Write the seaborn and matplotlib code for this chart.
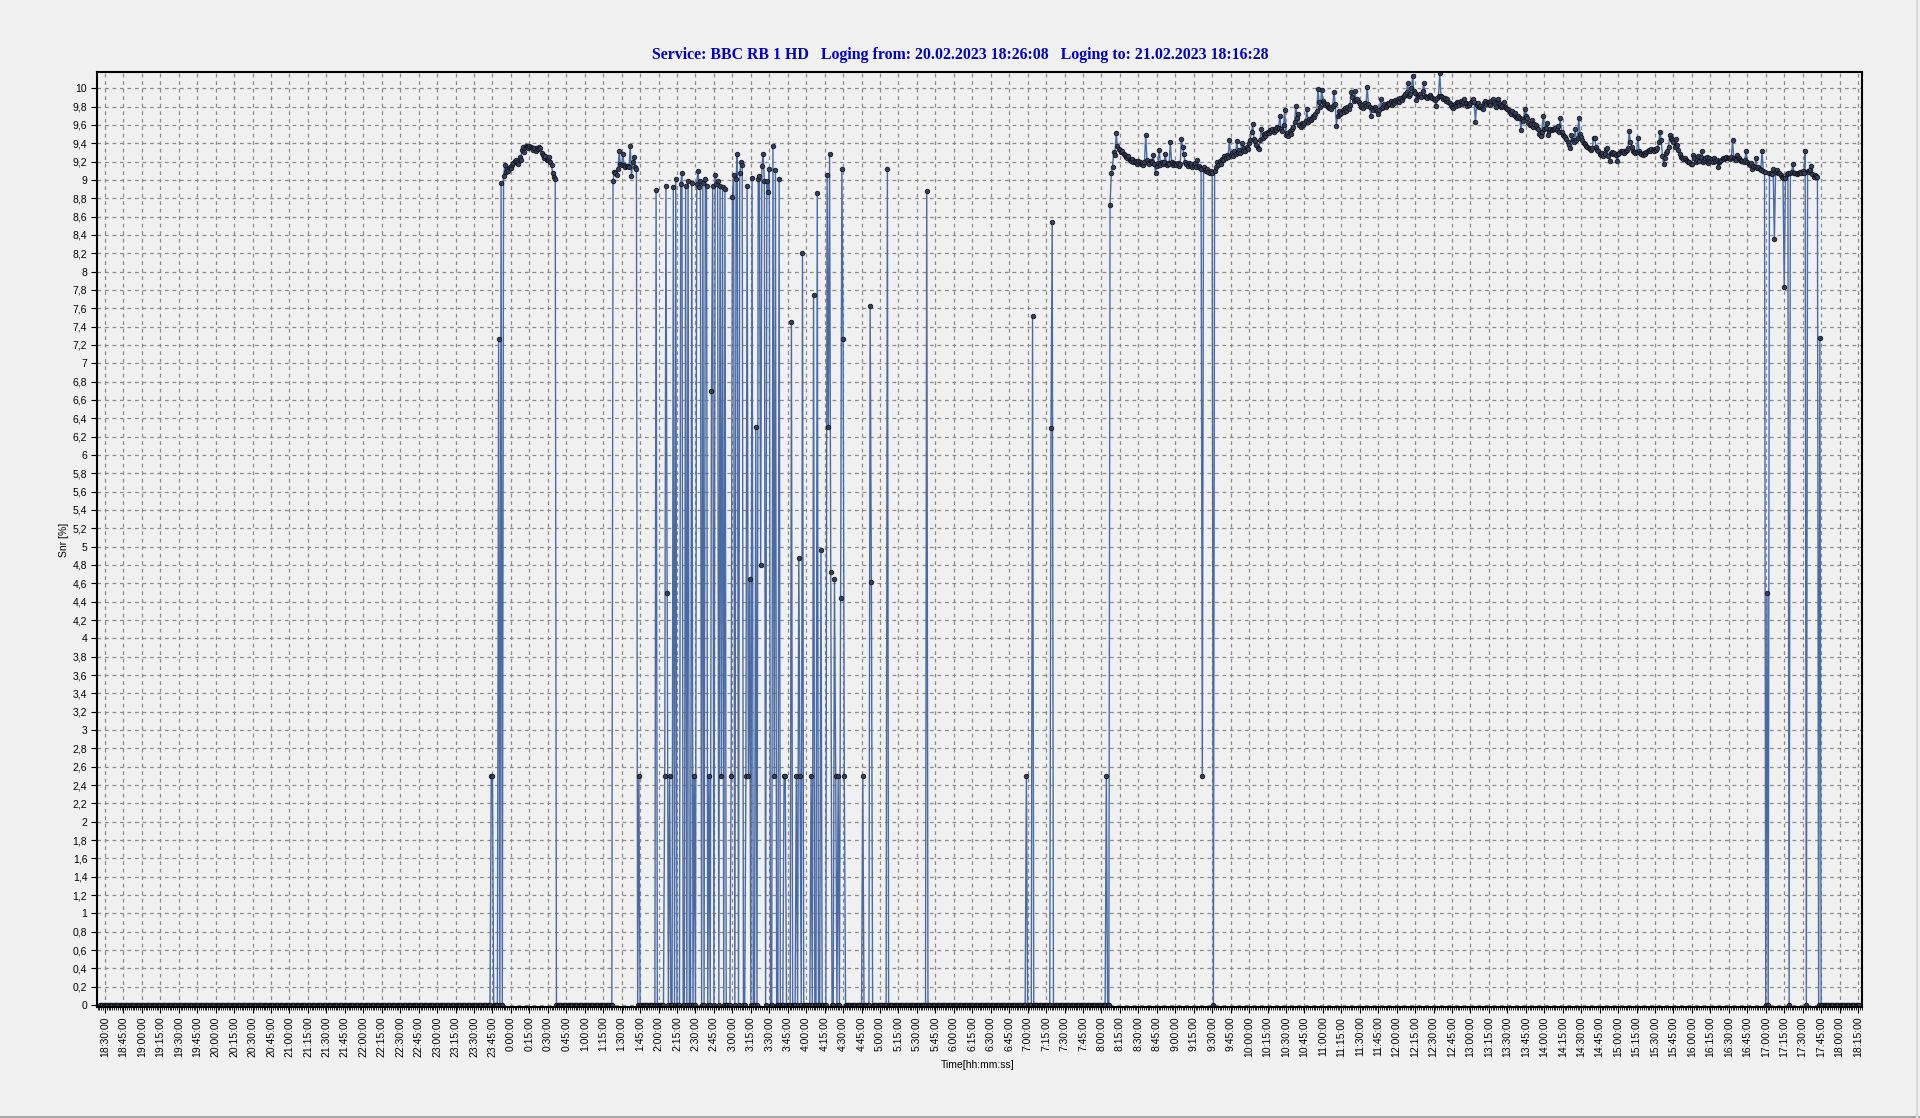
import matplotlib
matplotlib.use("Agg")
import matplotlib.pyplot as plt
import matplotlib.dates as mdates
from matplotlib.ticker import MultipleLocator, FuncFormatter, AutoMinorLocator
from matplotlib.lines import Line2D
import pandas as pd
import seaborn as sns

TITLE = "Service: BBC RB 1 HD   Loging from: 20.02.2023 18:26:08   Loging to: 21.02.2023 18:16:28"
first_sample = "2023-02-20 18:26"
x_from, x_to = "2023-02-20 18:23:30", "2023-02-21 18:18:15"

# Snr [%], one reading per minute
snr_evening = [0.0] * 318  # 18:26 - 23:43, nothing received

snr_midnight = [  # 23:44 - 0:36
    2.5, 2.5, 0, 0, 0, 0, 7.26, 0, 8.97, 0, 9.04, 9.16, 9.09, 9.12, 9.10, 9.14,
    9.13, 9.16, 9.18, 9.21, 9.22, 9.19, 9.17, 9.25, 9.22, 9.33, 9.36, 9.30, 9.37, 9.36, 9.35,
    9.37, 9.36, 9.35, 9.33, 9.35, 9.32, 9.35, 9.34, 9.36, 9.35, 9.29, 9.27, 9.24, 9.26, 9.22,
    9.22, 9.25, 9.20, 9.16, 9.07, 9.03, 9.01,
]

snr_gap = [0.0] * 46  # 0:37 - 1:22

snr_0123 = [  # 1:23 - 1:42
    8.99, 9.09, 9.07, 9.05, 9.12, 9.31, 9.17, 9.16, 9.28, 9.16,
    9.14, 9.15, 9.15, 9.14, 9.37, 9.04, 9.19, 9.25, 9.14, 9.12,
]

snr_dropouts = (  # 1:43 - 4:53
    [0, 2.5] + [0] * 13 + [8.89, 0]
    + [0, 0, 0, 0, 0, 2.5, 8.93, 4.5, 0, 2.5, 0, 0, 8.92, 0, 9.01]
    + [0, 0, 0, 8.95, 9.08, 0, 0, 8.93, 0, 8.99, 0, 0, 8.97, 0, 2.5]
    + [0, 8.96, 9.10, 8.92, 8.99, 0, 8.97, 0, 9.01, 8.93, 0, 2.5, 0, 6.70, 8.93]
    + [0, 9.05, 8.96, 8.99, 0, 8.93, 2.5, 8.92, 0, 8.90, 0, 0, 0, 0, 2.5]
    + [8.81, 9.05, 0, 9.01, 9.28, 0, 9.07, 9.20, 9.16, 0, 0, 2.5, 8.93, 2.5, 4.65]
    + [0, 9.02, 0, 0, 6.31, 0, 9.01, 9.04, 4.80, 9.15, 9.28, 8.99, 0, 8.99, 8.87]
    + [9.12, 0, 0, 9.37, 2.5, 9.11, 0, 0, 9.01, 0, 0, 0, 2.5, 2.5, 0]
    + [0, 0, 0, 7.45, 0, 0, 0, 2.5, 0, 4.88, 2.5, 0, 8.20, 0, 0]
    + [0, 0, 0, 0, 2.5, 0, 7.74, 0, 0, 8.86, 0, 0, 4.96, 0, 0]
    + [0, 0, 9.05, 6.31, 9.28, 4.72, 0, 0, 4.65, 2.5, 0, 2.5, 0, 4.44, 9.12]
    + [7.27, 2.5] + [0] * 13
    + [0, 2.5, 0, 0, 0, 0, 0, 7.62, 4.62]
)

snr_early = (  # 4:54 - 8:06
    [0.0] * 12 + [9.12] + [0.0] * 31 + [8.88] + [0.0] * 80 + [2.5]
    + [0.0] * 4 + [7.52] + [0.0] * 14 + [6.29, 8.54] + [0.0] * 43 + [2.5, 0.0, 0.0]
)

snr_day = [  # 8:07 - 17:42
    8.73, 9.07, 9.14, 9.30, 9.27, 9.51, 9.37, 9.34,
    9.33, 9.30, 9.32, 9.28, 9.27, 9.25, 9.24, 9.26, 9.22, 9.21, 9.23, 9.19, 9.21, 9.20, 9.17,
    9.21, 9.19, 9.17, 9.18, 9.16, 9.20, 9.49, 9.22, 9.18, 9.17, 9.21, 9.19, 9.27, 9.17, 9.08,
    9.15, 9.18, 9.33, 9.16, 9.19, 9.17, 9.20, 9.28, 9.16, 9.18, 9.17, 9.41, 9.19, 9.16, 9.18,
    9.17, 9.16, 9.18, 9.15, 9.17, 9.45, 9.36, 9.28, 9.19, 9.17, 9.15, 9.18, 9.16, 9.17, 9.14,
    9.16, 9.18, 9.14, 9.22, 9.15, 9.13, 9.12, 2.5, 9.14, 9.11, 9.10, 9.12, 9.09, 9.08, 9.10,
    9.07, 0, 9.10, 9.14, 9.19, 9.16, 9.21, 9.17, 9.23, 9.22, 9.26, 9.24, 9.27, 9.25, 9.44,
    9.27, 9.29, 9.26, 9.31, 9.28, 9.42, 9.30, 9.33, 9.29, 9.40, 9.32, 9.35, 9.31, 9.36, 9.34,
    9.40, 9.44, 9.52, 9.61, 9.45, 9.42, 9.38, 9.35, 9.34, 9.44, 9.56, 9.46, 9.50, 9.48, 9.51,
    9.52, 9.51, 9.54, 9.53, 9.55, 9.52, 9.56, 9.54, 9.58, 9.57, 9.70, 9.56, 9.53, 9.60, 9.76,
    9.49, 9.51, 9.48, 9.53, 9.50, 9.55, 9.58, 9.63, 9.81, 9.67, 9.72, 9.60, 9.58, 9.62, 9.60,
    9.62, 9.64, 9.77, 9.63, 9.66, 9.65, 9.68, 9.70, 9.69, 9.72, 9.75, 9.99, 9.85, 9.80, 9.98,
    9.86, 9.84, 9.82, 9.83, 9.80, 9.78, 9.79, 9.77, 9.81, 9.96, 9.83, 9.59, 9.70, 9.75, 9.72,
    9.73, 9.76, 9.74, 9.78, 9.75, 9.80, 9.77, 9.82, 9.96, 9.90, 9.86, 9.97, 9.87, 9.88, 9.85,
    9.83, 9.80, 9.82, 9.78, 9.84, 9.81, 10.01, 9.83, 9.79, 9.70, 9.78, 9.76, 9.79, 9.77, 9.75,
    9.72, 9.76, 9.88, 9.78, 9.80, 9.83, 9.79, 9.82, 9.84, 9.83, 9.86, 9.82, 9.85, 9.84, 9.87,
    9.86, 9.88, 9.85, 9.89, 9.87, 9.90, 9.92, 9.94, 9.96, 10.06, 9.91, 9.94, 10.00, 10.13, 9.97,
    9.95, 9.87, 9.93, 9.91, 9.94, 9.90, 9.97, 10.06, 9.92, 9.90, 9.89, 9.91, 9.93, 9.90, 9.89,
    9.88, 9.87, 9.81, 9.89, 9.92, 10.16, 9.91, 9.90, 9.88, 9.89, 9.86, 9.88, 9.85, 9.84, 9.82,
    9.80, 9.78, 9.83, 9.81, 9.85, 9.84, 9.82, 9.86, 9.83, 9.85, 9.88, 9.84, 9.81, 9.83, 9.82,
    9.84, 9.86, 9.88, 9.85, 9.63, 9.82, 9.84, 9.80, 9.81, 9.78, 9.77, 9.84, 9.86, 9.83, 9.85,
    9.84, 9.82, 9.86, 9.88, 9.85, 9.83, 9.80, 9.88, 9.84, 9.82, 9.79, 9.81, 9.85, 9.80, 9.78,
    9.77, 9.76, 9.74, 9.72, 9.75, 9.71, 9.73, 9.69, 9.67, 9.70, 9.68, 9.54, 9.66, 9.64, 9.77,
    9.70, 9.68, 9.62, 9.60, 9.61, 9.65, 9.58, 9.61, 9.60, 9.57, 9.55, 9.50, 9.48, 9.52, 9.70,
    9.56, 9.57, 9.62, 9.49, 9.53, 9.55, 9.54, 9.56, 9.55, 9.57, 9.54, 9.59, 9.52, 9.68, 9.52,
    9.49, 9.48, 9.47, 9.45, 9.41, 9.38, 9.35, 9.49, 9.43, 9.41, 9.55, 9.44, 9.46, 9.68, 9.50,
    9.47, 9.44, 9.40, 9.39, 9.37, 9.36, 9.35, 9.34, 9.33, 9.35, 9.46, 9.46, 9.36, 9.33, 9.31,
    9.28, 9.27, 9.29, 9.26, 9.28, 9.34, 9.35, 9.26, 9.21, 9.29, 9.30, 9.28, 9.29, 9.27, 9.21,
    9.28, 9.29, 9.31, 9.30, 9.32, 9.29, 9.31, 9.33, 9.35, 9.53, 9.41, 9.36, 9.32, 9.30, 9.29,
    9.30, 9.46, 9.32, 9.29, 9.28, 9.27, 9.29, 9.28, 9.30, 9.31, 9.33, 9.32, 9.34, 9.33, 9.32,
    9.34, 9.33, 9.35, 9.41, 9.52, 9.44, 9.26, 9.17, 9.24, 9.29, 9.32, 9.36, 9.49, 9.46, 9.43,
    9.41, 9.36, 9.45, 9.38, 9.33, 9.28, 9.25, 9.24, 9.23, 9.24, 9.22, 9.21, 9.20, 9.19, 9.17,
    9.17, 9.27, 9.24, 9.19, 9.22, 9.26, 9.21, 9.25, 9.32, 9.20, 9.22, 9.24, 9.25, 9.18, 9.24,
    9.21, 9.23, 9.20, 9.24, 9.21, 9.22, 9.14, 9.19, 9.21, 9.22, 9.24, 9.23, 9.24, 9.25, 9.24,
    9.24, 9.23, 9.25, 9.43, 9.24, 9.23, 9.22, 9.27, 9.24, 9.22, 9.21, 9.21, 9.20, 9.22, 9.31,
    9.19, 9.17, 9.16, 9.18, 9.12, 9.15, 9.14, 9.24, 9.13, 9.14, 9.12, 9.11, 9.31, 9.10, 9.09,
    0, 4.5, 0, 9.08, 9.07, 9.06, 9.12, 8.35, 9.09, 9.11, 9.07, 9.08, 9.05, 9.03, 9.02,
    7.83, 9.02, 9.06, 9.08, 0, 9.07, 9.09, 9.17, 9.08, 9.07, 9.06, 9.08, 9.07, 9.09, 9.08,
    9.10, 9.08, 9.31, 0, 9.10, 9.09, 9.11, 9.15, 9.06, 9.03, 9.05, 9.04, 9.03,
]

snr_tail = [0.0, 7.28] + [0.0] * 32  # 17:43 - 18:16

snr = snr_evening + snr_midnight + snr_gap + snr_0123 + snr_dropouts + snr_early + snr_day + snr_tail
times = pd.date_range(first_sample, periods=len(snr), freq="1min")
df = pd.DataFrame({"time": times, "snr": snr})


def time_label(x, pos):
    d = mdates.num2date(x)
    return f"{d.hour}:{d.minute:02d}:{d.second:02d}"


def snr_label(v, pos):
    return f"{v:.1f}".rstrip("0").rstrip(".").replace(".", ",")


bg = "#f0f0f0"
fig = plt.figure(figsize=(19.2, 11.18), dpi=100, facecolor=bg)
ax = fig.add_axes([0.0505, 0.0993, 0.9193, 0.8366], facecolor=bg)

sns.lineplot(data=df, x="time", y="snr", ax=ax, estimator=None, sort=False,
             color="#4a6aa5", linewidth=1.0, marker="o", markersize=3.3,
             markerfacecolor="#34405a", markeredgecolor="#101018", markeredgewidth=0.55)

ax.set_xlim(pd.Timestamp(x_from), pd.Timestamp(x_to))
ax.set_ylim(-0.02, 10.18)

ax.xaxis.set_major_locator(mdates.MinuteLocator(byminute=[0, 15, 30, 45]))
ax.xaxis.set_major_formatter(FuncFormatter(time_label))
ax.xaxis.set_minor_locator(AutoMinorLocator(10))
ax.yaxis.set_major_locator(MultipleLocator(0.2))
ax.yaxis.set_major_formatter(FuncFormatter(snr_label))

ax.tick_params(axis="x", which="major", labelrotation=90, labelsize=7.5, length=4, width=0.8, pad=3)
ax.tick_params(axis="x", which="minor", length=2.5, width=0.6)
ax.tick_params(axis="y", labelsize=7.5, length=4, width=0.8, pad=3)
for lbl in ax.get_xticklabels() + ax.get_yticklabels():
    lbl.set_family("Liberation Sans")

ax.grid(True, which="major", color="#8a8a8a", linestyle=(0, (3, 3)), linewidth=0.9)
ax.set_axisbelow(True)
for side in ax.spines.values():
    side.set_color("black")
    side.set_linewidth(1.5)
ax.set_xlabel("")
ax.set_ylabel("")

fig.text(0.5, 0.9508, TITLE, ha="center", va="center", fontsize=11.4, color="#0000c8",
         family="Liberation Serif", weight="bold")
fig.text(0.0333, 0.517, "Snr [%]", rotation=90, ha="center", va="center", fontsize=7.5,
         family="Liberation Sans")
fig.text(0.509, 0.0474, "Time[hh:mm:ss]", ha="center", va="center", fontsize=7.5,
         family="Liberation Sans")

# window frame lines at bottom and right edge
fig.add_artist(Line2D([0, 1], [0.0012, 0.0012], color="#a8a8a8", linewidth=1.5))
fig.add_artist(Line2D([0.9985, 0.9985], [0, 1], color="#d8d8d8", linewidth=1.5))

fig.savefig("out.png", dpi=100, facecolor=bg)
